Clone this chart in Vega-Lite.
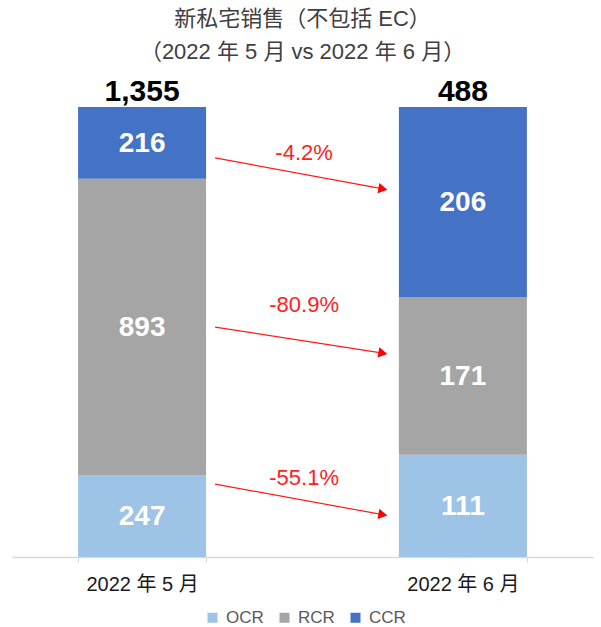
{
  "$schema": "https://vega.github.io/schema/vega-lite/v6.json",
  "autosize": {"type": "none"},
  "width": 581,
  "height": 450,
  "padding": {"left": 12, "top": 107, "right": 8, "bottom": 70},
  "title": {
    "text": ["新私宅销售（不包括 EC）", "（2022 年 5 月 vs 2022 年 6 月）"],
    "fontSize": 22,
    "fontWeight": "normal",
    "font": "'Liberation Sans', 'Noto Sans CJK SC', sans-serif",
    "color": "#404040",
    "lineHeight": 33,
    "anchor": "middle",
    "offset": 13
  },
  "datasets": {
    "sales": [
      {"period": "2022 年 5 月", "region": "OCR", "rank": 1, "value": 247},
      {"period": "2022 年 5 月", "region": "RCR", "rank": 2, "value": 893},
      {"period": "2022 年 5 月", "region": "CCR", "rank": 3, "value": 216},
      {"period": "2022 年 6 月", "region": "OCR", "rank": 1, "value": 111},
      {"period": "2022 年 6 月", "region": "RCR", "rank": 2, "value": 171},
      {"period": "2022 年 6 月", "region": "CCR", "rank": 3, "value": 206}
    ],
    "totals": [
      {"period": "2022 年 5 月", "total": 1355},
      {"period": "2022 年 6 月", "total": 488}
    ],
    "arrows": [
      {"from": "2022 年 5 月", "to": "2022 年 6 月", "y_start": 0.887, "y_end": 0.818, "label": "-4.2%", "label_y": 0.898},
      {"from": "2022 年 5 月", "to": "2022 年 6 月", "y_start": 0.511, "y_end": 0.453, "label": "-80.9%", "label_y": 0.56},
      {"from": "2022 年 5 月", "to": "2022 年 6 月", "y_start": 0.162, "y_end": 0.094, "label": "-55.1%", "label_y": 0.176}
    ]
  },
  "layer": [
    {
      "data": {"name": "sales"},
      "mark": {"type": "bar"},
      "encoding": {
        "x": {
          "field": "period", "type": "nominal", "sort": null,
          "scale": {"paddingInner": 0.601, "paddingOuter": 0.206},
          "axis": {
            "title": null, "labelAngle": 0, "labelFontSize": 20,
            "labelFont": "'Liberation Sans', 'Noto Sans CJK SC', sans-serif",
            "labelColor": "#1a1a1a", "labelPadding": 12,
            "domainColor": "#D9D9D9", "domainWidth": 1.3,
            "ticks": true, "tickBand": "extent", "tickColor": "#D9D9D9", "tickSize": 5
          }
        },
        "y": {
          "field": "value", "type": "quantitative", "stack": "normalize",
          "scale": {"domain": [0, 1], "nice": false},
          "axis": null
        },
        "order": {"field": "rank", "type": "quantitative", "sort": "ascending"},
        "color": {
          "field": "region", "type": "nominal",
          "sort": ["OCR", "RCR", "CCR"],
          "scale": {"domain": ["OCR", "RCR", "CCR"], "range": ["#9DC3E6", "#A5A5A5", "#4472C4"]},
          "legend": {
            "title": null, "orient": "none", "direction": "horizontal",
            "legendX": 192, "legendY": 502,
            "symbolType": "square", "symbolSize": 100, "symbolStrokeWidth": 0,
            "labelFontSize": 17, "labelColor": "#595959",
            "labelFont": "'Liberation Sans', sans-serif",
            "labelOffset": 5, "columnPadding": 12
          }
        }
      }
    },
    {
      "data": {"name": "sales"},
      "mark": {"type": "text", "color": "white", "fontWeight": "bold", "fontSize": 28, "font": "'Liberation Sans', sans-serif", "baseline": "middle", "dy": 1},
      "encoding": {
        "x": {"field": "period", "type": "nominal", "sort": null},
        "y": {"field": "value", "type": "quantitative", "stack": "normalize", "bandPosition": 0.5},
        "order": {"field": "rank", "type": "quantitative", "sort": "ascending"},
        "detail": {"field": "region", "type": "nominal"},
        "text": {"field": "value", "type": "quantitative"}
      }
    },
    {
      "data": {"name": "totals"},
      "mark": {"type": "text", "color": "black", "fontWeight": "bold", "fontSize": 30, "font": "'Liberation Sans', sans-serif", "baseline": "alphabetic", "dy": -6},
      "encoding": {
        "x": {"field": "period", "type": "nominal", "sort": null},
        "y": {"datum": 1, "type": "quantitative"},
        "text": {"field": "total", "type": "quantitative", "format": ","}
      }
    },
    {
      "data": {"name": "arrows"},
      "mark": {"type": "rule", "color": "#FF1A1A", "strokeWidth": 1.2, "xOffset": 73, "x2Offset": -80},
      "encoding": {
        "x": {"field": "from", "type": "nominal"},
        "x2": {"field": "to"},
        "y": {"field": "y_start", "type": "quantitative"},
        "y2": {"field": "y_end"}
      }
    },
    {
      "data": {"name": "arrows"},
      "mark": {"type": "point", "shape": "triangle-right", "filled": true, "color": "#FF0000", "opacity": 1, "size": 110, "angle": 10, "xOffset": -80},
      "encoding": {
        "x": {"field": "to", "type": "nominal"},
        "y": {"field": "y_end", "type": "quantitative"}
      }
    },
    {
      "data": {"name": "arrows"},
      "mark": {"type": "text", "color": "#FF2020", "fontSize": 22, "font": "'Liberation Sans', sans-serif", "baseline": "middle", "xOffset": 162},
      "encoding": {
        "x": {"field": "from", "type": "nominal"},
        "y": {"field": "label_y", "type": "quantitative"},
        "text": {"field": "label"}
      }
    }
  ],
  "config": {
    "view": {"stroke": null}
  }
}
